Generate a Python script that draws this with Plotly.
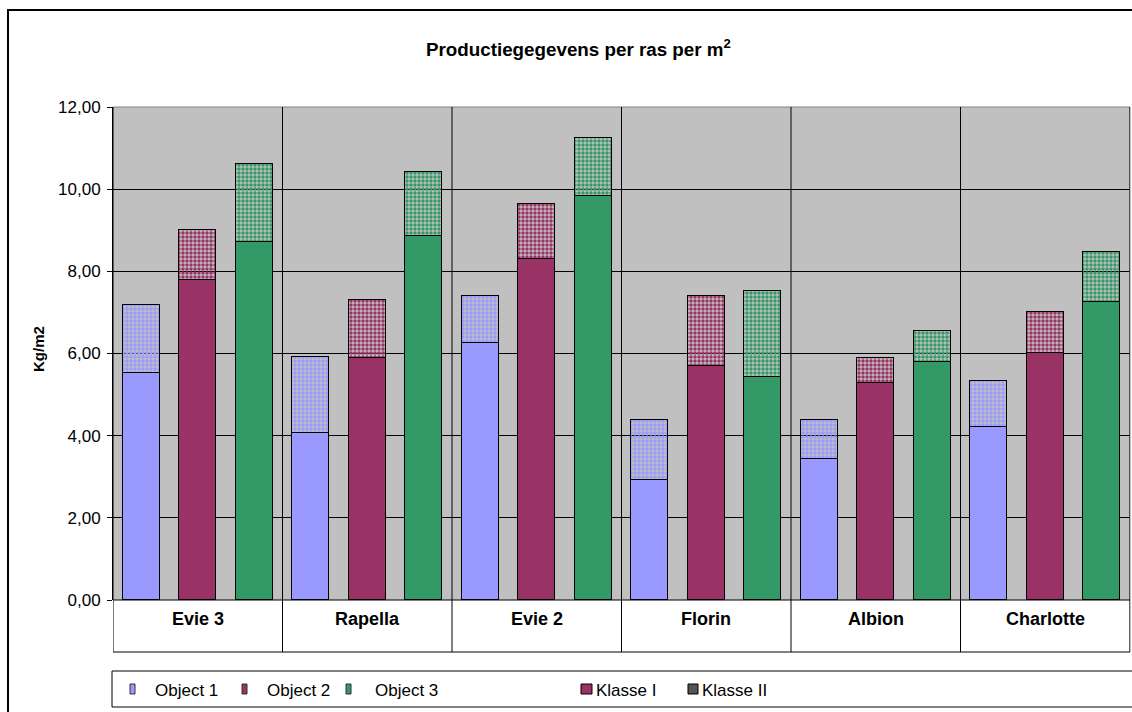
import plotly.graph_objects as go

# Production per variety (kg/m2), split in Klasse I and Klasse II, for three objects
rassen = ["Evie 3", "Rapella", "Evie 2", "Florin", "Albion", "Charlotte"]
objecten = ["Object 1", "Object 2", "Object 3"]

klasse1_obj1 = [5.53, 4.07, 6.25, 2.92, 3.43, 4.21]
klasse2_obj1 = [1.65, 1.84, 1.16, 1.47, 0.94, 1.11]
klasse1_obj2 = [7.78, 5.88, 8.30, 5.70, 5.28, 6.02]
klasse2_obj2 = [1.23, 1.42, 1.34, 1.70, 0.61, 0.98]
klasse1_obj3 = [8.72, 8.85, 9.84, 5.43, 5.79, 7.25]
klasse2_obj3 = [1.90, 1.58, 1.41, 2.10, 0.75, 1.22]

y_ticks = [0, 2, 4, 6, 8, 10, 12]
y_ticklabels = ["0,00", "2,00", "4,00", "6,00", "8,00", "10,00", "12,00"]

FONT = "Arial, Liberation Sans, sans-serif"
kleuren = ["#9999FF", "#993366", "#339966"]

W, H = 1132, 712
L, R, T, B = 113, 1130, 107, 600  # plot area in pixels


def px(x):
    return (x - L) / (R - L)


def py(y):
    return (B - y) / (B - T)


k1 = [klasse1_obj1, klasse1_obj2, klasse1_obj3]
k2 = [klasse2_obj1, klasse2_obj2, klasse2_obj3]

xs, v1, v2, cols, dots = [], [], [], [], []
for i, ras in enumerate(rassen):
    for j in range(3):
        xs.append(3 * i + j + 0.5)
        v1.append(k1[j][i])
        v2.append(k2[j][i])
        cols.append(kleuren[j])
        dots.append("#FFFFCC" if (i == 0 and j == 2) else "white")

fig = go.Figure()
fig.add_trace(go.Bar(
    x=xs, y=v1, width=0.66, name="Klasse I",
    marker=dict(color=cols, line=dict(color="black", width=1.5)),
    showlegend=False,
))
fig.add_trace(go.Bar(
    x=xs, y=v2, width=0.66, name="Klasse II",
    marker=dict(
        color=cols,
        line=dict(color="black", width=1.5),
        pattern=dict(shape=".", fgcolor=dots, bgcolor=cols, size=4, solidity=0.6, fillmode="replace"),
    ),
    showlegend=False,
))

shapes = []
tb = py(652)  # bottom of the category table
# category table background
shapes.append(dict(type="rect", xref="paper", yref="paper", x0=0, x1=1, y0=tb, y1=0,
                   line=dict(width=0), fillcolor="white", layer="below"))
# plot frame (top and right in gray)
shapes.append(dict(type="line", xref="paper", yref="paper", x0=0, x1=1, y0=1, y1=1,
                   line=dict(color="#808080", width=1)))
shapes.append(dict(type="line", xref="paper", yref="paper", x0=1, x1=1, y0=tb, y1=1,
                   line=dict(color="#808080", width=1)))
# group separators running down through the table
for g in range(0, 7):
    shapes.append(dict(type="line", xref="x", yref="paper", x0=3 * g, x1=3 * g, y0=tb, y1=1,
                       line=dict(color="black", width=1)))
shapes.append(dict(type="line", xref="paper", yref="paper", x0=0, x1=1, y0=tb, y1=tb,
                   line=dict(color="black", width=1)))
shapes.append(dict(type="line", xref="paper", yref="paper", x0=0, x1=1, y0=0, y1=0,
                   line=dict(color="black", width=1)))
# outer chart border
shapes.append(dict(type="rect", xref="paper", yref="paper", x0=px(8), x1=px(1145), y0=py(10), y1=py(725),
                   line=dict(color="black", width=2), fillcolor="rgba(0,0,0,0)"))
# legend box
shapes.append(dict(type="rect", xref="paper", yref="paper", x0=px(112), x1=px(1145), y0=py(671), y1=py(707),
                   line=dict(color="black", width=1), fillcolor="white"))


def label(x, y, text, size, xref="paper", xanchor="center", angle=0):
    return dict(x=x, xref=xref, y=y, yref="paper", text=text, showarrow=False,
                xanchor=xanchor, yanchor="middle", textangle=angle,
                font=dict(family=FONT, size=size, color="black"))


annotations = []
for i, ras in enumerate(rassen):
    annotations.append(label(3 * i + 1.5, py(619), "<b>%s</b>" % ras, 18, xref="x"))

annotations.append(label(px(578), py(48), "<b>Productiegegevens per ras per m<sup>2</sup></b>", 18.8))
annotations.append(label(px(38), py(349), "<b>Kg/m2</b>", 15, angle=-90))

# legend entries
ly = 690
legend_obj = [(130, 153), (242, 265), (346, 373)]
for j, (sx, tx) in enumerate(legend_obj):
    shapes.append(dict(type="rect", xref="paper", yref="paper", x0=px(sx), x1=px(sx + 5),
                       y0=py(ly - 1 + 5), y1=py(ly - 1 - 5), line=dict(color="#333333", width=1),
                       fillcolor=kleuren[j]))
    annotations.append(label(px(tx), py(ly), objecten[j], 17, xanchor="left"))
shapes.append(dict(type="rect", xref="paper", yref="paper", x0=px(581), x1=px(592),
                   y0=py(ly + 4), y1=py(ly - 6), line=dict(color="black", width=1), fillcolor="#993366"))
annotations.append(label(px(594), py(ly), "Klasse I", 17, xanchor="left"))
shapes.append(dict(type="rect", xref="paper", yref="paper", x0=px(688), x1=px(698),
                   y0=py(ly + 4), y1=py(ly - 6), line=dict(color="black", width=1), fillcolor="#555555"))
annotations.append(label(px(700), py(ly), "Klasse II", 17, xanchor="left"))

fig.update_layout(
    width=W, height=H,
    margin=dict(l=L, r=W - R, t=T, b=H - B),
    paper_bgcolor="white",
    plot_bgcolor="#C0C0C0",
    barmode="stack",
    bargap=0,
    showlegend=False,
    shapes=shapes,
    annotations=annotations,
    font=dict(family=FONT, size=17, color="black"),
)
fig.update_xaxes(range=[0, 18], showticklabels=False, showgrid=False, zeroline=False,
                 showline=False, ticks="")
fig.update_yaxes(range=[0, 12], tickvals=y_ticks, ticktext=y_ticklabels, showgrid=True,
                 gridcolor="black", gridwidth=1, zeroline=False, showline=True, linecolor="black",
                 linewidth=1, ticks="outside", ticklen=5, tickcolor="black", ticklabelstandoff=3,
                 tickfont=dict(family=FONT, size=17, color="black"))

fig.write_html("out.html")
